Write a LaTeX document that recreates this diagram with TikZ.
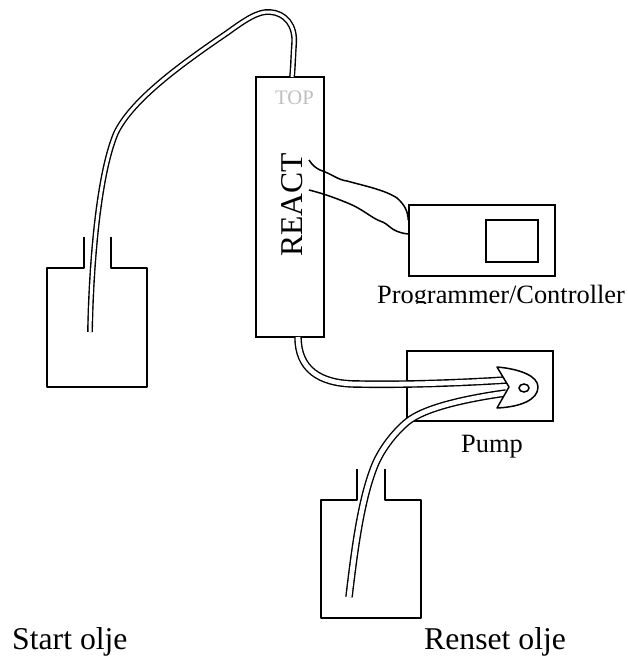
\documentclass[tikz,border=0pt]{standalone}
\usepackage{fontspec}
\setmainfont{Liberation Serif}
\usetikzlibrary{positioning, shapes.geometric}

\tikzset{
    box/.style={draw, rectangle, line width=1.6pt, inner sep=0pt},
    tube/.style={draw, line width=1.4pt, double=white, double distance=3pt},
    wire/.style={draw, line width=1.5pt},
    bottle/.style={line width=1.6pt, line join=round},
    label/.style={inner sep=0pt, font=\fontsize{26.4}{27}\selectfont},
    biglabel/.style={inner sep=0pt, font=\fontsize{31.7}{32}\selectfont}
}

\begin{document}
\begin{tikzpicture}[x=1pt, y=-1pt]
    \useasboundingbox (0,0) rectangle (628,658);

    \node[box, minimum width=68pt, minimum height=260pt] (react) at (290,207) {};
    \node[box, minimum width=146pt, minimum height=71pt] (ctrl) at (482,240.5) {};
    \node[box, minimum width=52pt, minimum height=42pt] (screen) at (512,241) {};
    \node[box, minimum width=146pt, minimum height=70pt] (pump) at (480,386) {};

    \node[inner sep=0pt, text=black!25, anchor=base, font=\fontsize{20.6}{21}\selectfont] (top) at (294.5,105) {TOP};
    \node[biglabel, rotate=90, anchor=base] (name) at (302,205) {REACT};
    \node[label, anchor=base] (ctrltext) at (501,303.5) {Programmer/Controller};
    \path[fill=white] (365,304) rectangle (628,318);
    \node[label, anchor=base] (pumptext) at (492,452) {Pump};
    \node[biglabel, anchor=base west] (start) at (12,649) {Start olje};
    \node[biglabel, anchor=base west] (renset) at (424,649) {Renset olje};

    % bottles
    \draw[bottle] (84,237) -- (84,268) -- (47,268) -- (47,387) -- (147,387) -- (147,268) -- (111,268) -- (111,237);
    \draw[bottle] (357,469) -- (357,500) -- (321,500) -- (321,618) -- (421,618) -- (421,500) -- (385,500) -- (385,469);

    \coordinate (startend) at (90,332);
    \coordinate (rensetend) at (349,597);
    \coordinate (reacttop) at (292,77);
    \coordinate (reactbottom) at (298,337);
    \coordinate (pumpin) at (506,380);
    \coordinate (pumpout) at (506,393);

    % tubes
    \path[tube] (startend) .. controls (91,275) and (97,178) .. (116,133)
        .. controls (132,100) and (180,65) .. (227,33)
        .. controls (245,20) and (258,11) .. (270,12)
        .. controls (285,13) and (296,25) .. (294,45)
        .. controls (293,60) and (293,68) .. (reacttop);
    \path[tube, double distance=4.8pt] (reactbottom) .. controls (298,368) and (318,384) .. (357,384)
        .. controls (400,385) and (460,383) .. (pumpin);
    \path[tube, double distance=4.8pt] (rensetend) .. controls (354,555) and (360,505) .. (373,470)
        .. controls (380,450) and (395,432) .. (407,422)
        .. controls (425,407) and (470,398) .. (pumpout);

    % pump head
    \draw[line width=1.5pt, fill=white, line join=round] (497,367) .. controls (520,369) and (538,376) .. (538,387)
        .. controls (538,400) and (520,407) .. (497,408) -- (509,387) -- cycle;
    \node[draw, ellipse, line width=1.5pt, minimum width=10pt, minimum height=8pt, inner sep=0pt] (eye) at (524,388) {};

    % wires
    \coordinate (wirea) at (309,160);
    \coordinate (wireb) at (309,190);
    \path[wire] (wirea) .. controls (313,166) and (316,168) .. (320,170)
        .. controls (332,174) and (338,180) .. (347,181)
        .. controls (365,186) and (385,190) .. (397,198)
        .. controls (405,205) and (408,212) .. (ctrl.west |- 0,220);
    \path[wire] (wireb) .. controls (325,194) and (338,199) .. (350,204)
        .. controls (362,209) and (372,218) .. (380,221)
        .. controls (390,224) and (390,232) .. (ctrl.west |- 0,234);
\end{tikzpicture}
\end{document}
